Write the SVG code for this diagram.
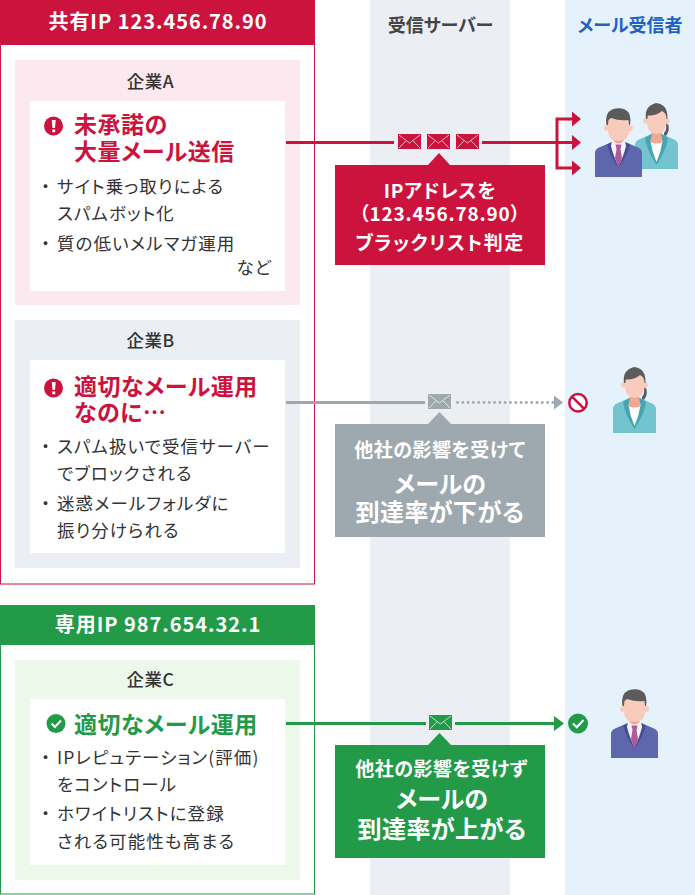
<svg xmlns="http://www.w3.org/2000/svg" xmlns:xlink="http://www.w3.org/1999/xlink" width="695" height="895" viewBox="0 0 695 895">
<style>
text{font-family:"Noto Sans CJK JP","Noto Sans",sans-serif;font-feature-settings:"palt"}
.hd{font-size:20px;font-weight:700;fill:#fff;text-anchor:middle;letter-spacing:.95px}
.co{font-size:17.500px;font-weight:500;fill:#333;text-anchor:middle;letter-spacing:.5px}
.t{font-size:23px;font-weight:700;letter-spacing:.5px}
.r{fill:#cc133d}.g{fill:#229a48}
.b{font-size:17.500px;fill:#333;letter-spacing:1.1px}
.cw{font-weight:700;fill:#fff;text-anchor:middle}
.face{fill:#f9cbbd}.hair{fill:#5b5b5b}
.ln{fill:none;stroke-width:3}
.env{stroke:#fff;stroke-width:.7;fill:none}
.dot{font-feature-settings:"normal";letter-spacing:0}
</style>
<defs>
<g id="env"><path d="M1 1L11.500 9L22 1M1 14L8 6.800M22 14L15 6.800" class="env"/></g>
<g id="man">
<path d="M0 69V45Q0 41 4 39.500L17 34H30L43 39.500Q47 41 47 45V69Z" fill="#5f67ac"/>
<path d="M12 36.500L17 34H30L35 36.500Q32 48 23.500 60Q15 48 12 36.500Z" fill="#474d93"/>
<path d="M17 33H30L31 38Q28 50 23.500 58Q19 50 16 38Z" fill="#f7f3f6"/>
<path d="M20.500 36.500H26.500L25.500 41L27 50L23.500 60L20 50L21.500 41Z" fill="#b05a9c"/>
<path d="M18.500 26H28.500V33Q23.500 38 18.500 33Z" fill="#f3a68f"/>
<circle cx="12" cy="20" r="3" class="face"/><circle cx="35" cy="20" r="3" class="face"/>
<path d="M13 10H34V24Q33 33 23.500 33Q14 33 13 24Z" class="face"/>
<path d="M11.500 17Q9.500 5 17 1.500Q24 -1 30 1.500Q37 5 35 17L34 17L33.500 12Q24 13 16 10L13.500 12L13 17Z" class="hair"/>
</g>
<g id="woman">
<path d="M29 30Q32 27 31 20L33.500 22Q35 30 29 35Z" class="hair"/>
<path d="M0 66V42Q0 38 4 36.500L14 32H29L39 36.500Q43 38 43 42V66Z" fill="#72c4cf"/>
<path d="M10 35L16 31H27L33 35Q31 48 21.500 62Q12 48 10 35Z" fill="#46a5ae"/>
<path d="M15.500 38H27.500Q26 49 21.500 59Q17 49 15.500 38Z" fill="#fff"/>
<path d="M16.500 24H26.500V33Q27.500 37 28 39Q21.500 42 15 39Q16 37 16.500 33Z" fill="#f2a78f"/>
<circle cx="11" cy="18" r="2.800" class="face"/><circle cx="32" cy="18" r="2.800" class="face"/>
<path d="M12 8H31V20Q30 31 21.500 31Q13 31 12 20Z" class="face"/>
<path d="M11 16Q9 3 21 0Q33 1 32.500 16L31.500 16Q31.500 10 27 8Q21 13 12.800 12.500L12.300 16Z" class="hair"/>
</g>
</defs>
<rect x="370" y="0" width="140" height="895" fill="#ebeff4"/>
<rect x="565" y="0" width="130" height="895" fill="#e5f2fb"/>
<g id="col-server"><text x="440.500" y="32" style="font-size:18px;font-weight:700;fill:#444;text-anchor:middle">受信サーバー</text></g>
<g id="col-receiver"><text x="630" y="32" style="font-size:18px;font-weight:700;fill:#1f62c0;text-anchor:middle">メール受信者</text></g>

<g id="shared-ip">
<rect x=".5" y=".5" width="314" height="583.500" fill="#fff" stroke="#cc133d"/>
<rect x="0" y="0" width="315" height="45" fill="#cc133d"/>
<text x="158" y="29" class="hd">共有IP 123.456.78.90</text>
</g>
<g id="company-a">
<rect x="15" y="60" width="285" height="245" fill="#fbe9ef"/>
<rect x="30" y="101" width="255" height="190" fill="#fff"/>
<text x="150.500" y="88" class="co">企業A</text>
<circle cx="53.500" cy="126" r="9.500" fill="#cc133d"/>
<path d="M51.800 120H55.700L55 128H52.500ZM52.300 129.500H55.200V132.300H52.300Z" fill="#fff"/>
<text x="74" y="133" class="t r">未承諾の</text>
<text x="74" y="159.500" class="t r">大量メール送信</text>
<text x="41" y="193" class="b dot">・</text><text x="57" y="193" class="b">サイト乗っ取りによる</text>
<text x="57" y="220" class="b">スパムボット化</text>
<text x="41" y="250" class="b dot">・</text><text x="57" y="250" class="b">質の低いメルマガ運用</text>
<text x="272" y="274" class="b" text-anchor="end">など</text>
</g>
<g id="company-b">
<rect x="15" y="320" width="285" height="248" fill="#ebeff4"/>
<rect x="30" y="360" width="255" height="193" fill="#fff"/>
<text x="150.500" y="347" class="co">企業B</text>
<circle cx="53.500" cy="388" r="9.500" fill="#cc133d"/>
<path d="M51.800 382H55.700L55 390H52.500ZM52.300 391.500H55.200V394.300H52.300Z" fill="#fff"/>
<text x="74" y="395" class="t r">適切なメール運用</text>
<text x="74" y="421" class="t r">なのに…</text>
<text x="41" y="453" class="b dot">・</text><text x="57" y="453" class="b">スパム扱いで受信サーバー</text>
<text x="57" y="480" class="b">でブロックされる</text>
<text x="41" y="510" class="b dot">・</text><text x="57" y="510" class="b">迷惑メールフォルダに</text>
<text x="57" y="537" class="b">振り分けられる</text>
</g>
<g id="dedicated-ip">
<rect x=".5" y="605.500" width="314" height="288.500" fill="#fff" stroke="#229a48"/>
<rect x="0" y="605" width="315" height="40" fill="#229a48"/>
<text x="158" y="631.500" class="hd">専用IP 987.654.32.1</text>
</g>
<g id="company-c">
<rect x="15" y="660" width="285" height="220" fill="#ecf8e9"/>
<rect x="30" y="699" width="255" height="166" fill="#fff"/>
<text x="150.500" y="686" class="co">企業C</text>
<circle cx="56" cy="723.500" r="9.500" fill="#229a48"/>
<path d="M51.500 723.500L55 727L61 720.500" fill="none" stroke="#fff" stroke-width="2"/>
<text x="74" y="732.500" class="t g">適切なメール運用</text>
<text x="41" y="764" class="b dot">・</text><text x="57" y="764" class="b">IPレピュテーション(評価)</text>
<text x="57" y="791" class="b">をコントロール</text>
<text x="41" y="820" class="b dot">・</text><text x="57" y="820" class="b">ホワイトリストに登録</text>
<text x="57" y="848" class="b">される可能性も高まる</text>
</g>

<g id="connectors">
<path d="M286 142.500H394M482 142.500H573M573 119H557V168H573" class="ln" stroke="#cc133d"/>
<path d="M572 111.500L581 119L572 126.500ZM572 135L581 142.500L572 150ZM572 160.500L581 168L572 175.500Z" fill="#cc133d"/>
<path d="M286 402.500H425" class="ln" stroke="#9ea9af"/>
<path d="M457.500 402.500H553" fill="none" stroke="#9ea9af" stroke-width="2.800" stroke-linecap="round" stroke-dasharray="0 5.300"/>
<path d="M554 395.500L563 402.500L554 409.500Z" fill="#9ea9af"/>
<path d="M286 723.500H426M455 723.500H555" class="ln" stroke="#229a48"/>
<path d="M554 716L564 723.500L554 731Z" fill="#229a48"/>
</g>

<g id="mail-red" fill="#cc133d">
<rect x="398" y="134" width="23" height="15"/><use xlink:href="#env" href="#env" x="398" y="134"/>
<rect x="427" y="134" width="23" height="15"/><use xlink:href="#env" href="#env" x="427" y="134"/>
<rect x="456" y="134" width="23" height="15"/><use xlink:href="#env" href="#env" x="456" y="134"/>
</g>
<g id="mail-gray"><rect x="428" y="394" width="23" height="15" fill="#9ea9af"/><use xlink:href="#env" href="#env" x="428" y="394"/></g>
<g id="mail-green"><rect x="429" y="715" width="23" height="15" fill="#229a48"/><use xlink:href="#env" href="#env" x="429" y="715"/></g>

<g id="callout-red">
<path d="M335 165H428L439 153L450 165H545V265H335Z" fill="#cc133d"/>
<text x="440" y="198" class="cw" font-size="19" letter-spacing=".8">IPアドレスを</text>
<text x="440" y="221" class="cw" font-size="19" letter-spacing=".8">（123.456.78.90）</text>
<text x="440" y="250" class="cw" font-size="19" letter-spacing="1.500">ブラックリスト判定</text>
</g>
<g id="callout-gray">
<path d="M335 424H428L439.500 412L451 424H545V537H335Z" fill="#9ea9af"/>
<text x="440" y="457" class="cw" font-size="19" letter-spacing=".5">他社の影響を受けて</text>
<text x="440" y="492.500" class="cw" font-size="24">メールの</text>
<text x="440" y="521" class="cw" font-size="24" letter-spacing=".4">到達率が下がる</text>
</g>
<g id="callout-green">
<path d="M335 745H428L439.500 733L451 745H545V858H335Z" fill="#229a48"/>
<text x="441.500" y="776" class="cw" font-size="19" letter-spacing=".5">他社の影響を受けず</text>
<text x="442" y="808" class="cw" font-size="24">メールの</text>
<text x="442" y="838" class="cw" font-size="24" letter-spacing=".4">到達率が上がる</text>
</g>

<g id="status-block"><circle cx="578" cy="402.700" r="8.700" fill="#fff" stroke="#cc133d" stroke-width="2.500"/><path d="M572 396.700L584 408.700" stroke="#cc133d" stroke-width="2.500"/></g>
<g id="status-ok"><circle cx="578" cy="723.500" r="10" fill="#229a48"/><path d="M573 723.500L576.800 727.300L583.500 720" fill="none" stroke="#fff" stroke-width="2"/></g>

<g id="recipients-a"><use xlink:href="#woman" href="#woman" x="635" y="103"/><use xlink:href="#man" href="#man" x="595" y="108"/></g>
<g id="recipient-b"><use xlink:href="#woman" href="#woman" x="613" y="367"/></g>
<g id="recipient-c"><use xlink:href="#man" href="#man" x="611" y="689"/></g>
</svg>
